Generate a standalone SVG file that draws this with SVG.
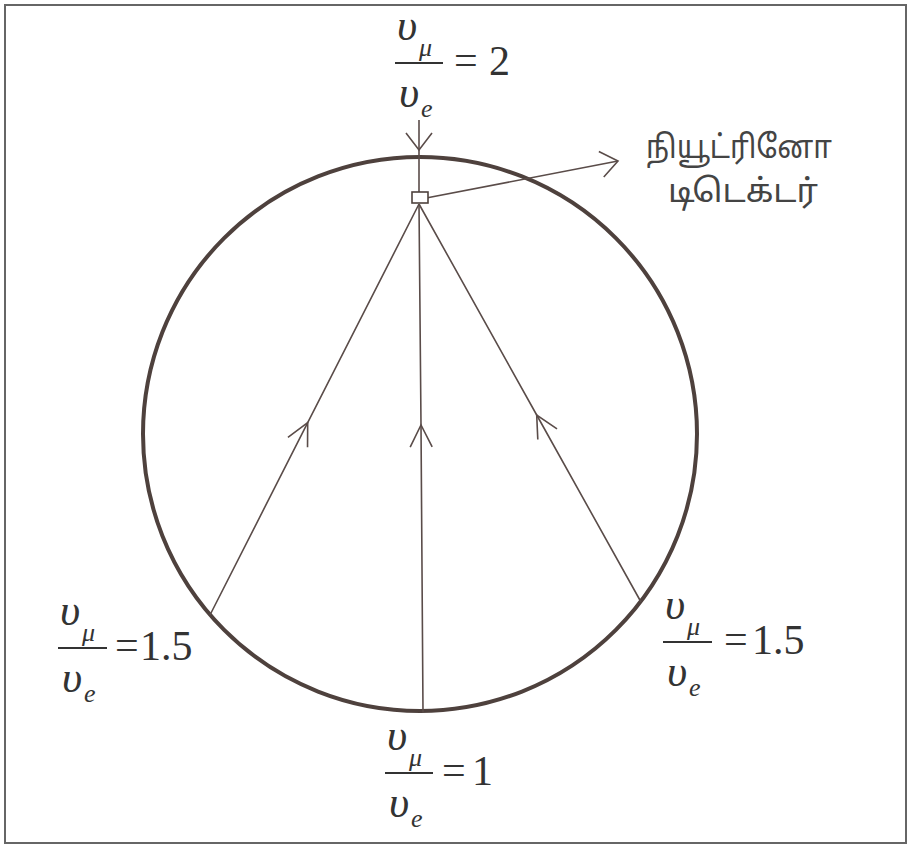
<svg xmlns="http://www.w3.org/2000/svg" width="911" height="854" viewBox="0 0 911 854">
<style>
.frame{fill:none;stroke:#666;stroke-width:2}
.circ{fill:none;stroke:#4e413d;stroke-width:4}
.ln{fill:none;stroke:#5a4c49;stroke-width:1.6}
.box{fill:#fff;stroke:#4e413d;stroke-width:1.6}
.v{font-family:"Liberation Serif",serif;font-style:italic;font-size:44px;fill:#333}
.s{font-family:"Liberation Serif",serif;font-style:italic;font-size:26px;fill:#333}
.n{font-family:"Liberation Serif",serif;font-size:42px;fill:#333}
.bar{stroke:#333;stroke-width:1.8}
.ta{font-family:"Noto Sans Tamil","Lohit Tamil","Noto Sans",sans-serif;font-size:32px;fill:#444}
</style>
<defs>
<marker id="mid" viewBox="-30 -15 32 30" markerWidth="32" markerHeight="30" refX="0" refY="0" orient="auto" markerUnits="userSpaceOnUse">
<path d="M-22,-11 L0,0 L-22,11" fill="none" stroke="#5a4c49" stroke-width="1.6"/>
</marker>
<marker id="tip" viewBox="-30 -15 32 30" markerWidth="32" markerHeight="30" refX="0" refY="0" orient="auto" markerUnits="userSpaceOnUse">
<path d="M-17,-13 L0,0 L-17,13" fill="none" stroke="#5a4c49" stroke-width="1.6"/>
</marker>
</defs>
<rect class="frame" x="5" y="5" width="901" height="838"/>
<g id="earth"><circle class="circ" cx="420" cy="434" r="277"/></g>
<g id="connectors">
<path class="ln" d="M423,712 L421,425 L419,204" marker-mid="url(#mid)"/>
<path class="ln" d="M210,615 L307.7,422.7 L419,204" marker-mid="url(#mid)"/>
<path class="ln" d="M641,602 L536.7,415 L419,204" marker-mid="url(#mid)"/>
<path class="ln" d="M419,120 L419,150 L419,192" marker-mid="url(#tip)"/>
<path class="ln" d="M421,199 L618,161" marker-end="url(#tip)"/>
</g>
<g id="detector"><rect class="box" x="412" y="192" width="16" height="11"/></g>
<g id="detector-label">
<text class="ta" x="646" y="158" textLength="186" lengthAdjust="spacingAndGlyphs">நியூட்ரினோ</text>
<text class="ta" x="668" y="202" textLength="150" lengthAdjust="spacingAndGlyphs">டிடெக்டர்</text>
</g>
<g id="label-top" transform="translate(395,63)">
<text class="v" x="2" y="-23">υ</text><text class="s" x="24" y="-7">μ</text>
<line class="bar" x1="0" y1="0" x2="48" y2="0"/>
<text class="v" x="4" y="44">υ</text><text class="s" x="26" y="54">e</text>
<text class="n" x="59" y="11">=</text><text class="n" x="94" y="12">2</text>
</g>
<g id="label-left" transform="translate(58,648)">
<text class="v" x="2" y="-23">υ</text><text class="s" x="24" y="-7">μ</text>
<line class="bar" x1="0" y1="0" x2="49" y2="0"/>
<text class="v" x="4" y="44">υ</text><text class="s" x="26" y="54">e</text>
<text class="n" x="57" y="11">=</text><text class="n" x="82" y="12">1.5</text>
</g>
<g id="label-right" transform="translate(663,642)">
<text class="v" x="2" y="-23">υ</text><text class="s" x="24" y="-7">μ</text>
<line class="bar" x1="0" y1="0" x2="49" y2="0"/>
<text class="v" x="4" y="44">υ</text><text class="s" x="26" y="54">e</text>
<text class="n" x="61" y="11">=</text><text class="n" x="89" y="12">1.5</text>
</g>
<g id="label-bottom" transform="translate(385,773)">
<text class="v" x="2" y="-23">υ</text><text class="s" x="24" y="-7">μ</text>
<line class="bar" x1="0" y1="0" x2="48" y2="0"/>
<text class="v" x="4" y="44">υ</text><text class="s" x="26" y="54">e</text>
<text class="n" x="57" y="11">=</text><text class="n" x="87" y="12">1</text>
</g>
</svg>
